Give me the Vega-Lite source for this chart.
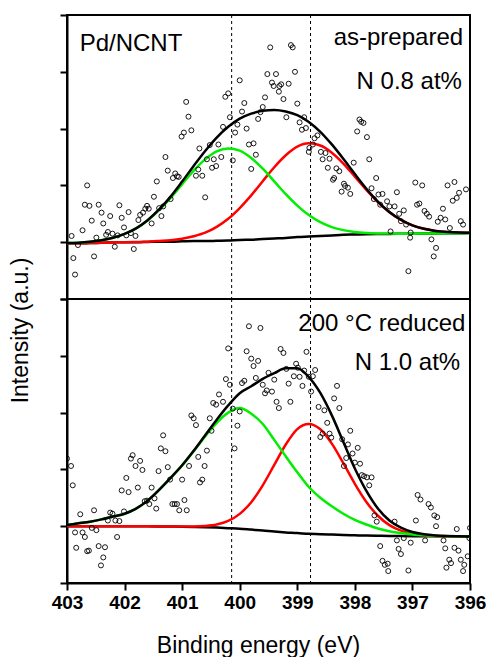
{
"$schema":"https://vega.github.io/schema/vega-lite/v6.json",
"padding":{"left":8,"top":13,"right":0,"bottom":0},
"bounds":"flush",
"background":"white",
"config":{"view":{"stroke":"black","strokeWidth":2},"font":"Liberation Sans",
"axis":{"grid":false,"domainColor":"black","domainWidth":2,"tickColor":"black","tickWidth":2,"tickSize":7,"labelFont":"Liberation Sans","titleFont":"Liberation Sans","labelColor":"black","titleColor":"black","titleFontWeight":"normal"}},
"datasets":{
"dash":[{"e":400.14},{"e":398.77}],
"topTextL":[{"e":402.78,"v":3.36,"t":"Pd/NCNT"}],
"topTextR":[{"e":396.12,"v":3.48,"t":"as-prepared"},{"e":396.14,"v":2.69,"t":"N 0.8 at%"}],
"botTextR":[{"e":396.08,"v":3.43,"t":"200 °C reduced"},{"e":396.17,"v":2.75,"t":"N 1.0 at%"}],
"topFit":[
{"e":403.0,"b":-0.02,"g":-0.015,"r":-0.02,"k":-0.015},
{"e":402.8,"b":-0.02,"g":-0.009,"r":-0.02,"k":-0.009},
{"e":402.6,"b":-0.015,"g":0.007,"r":-0.015,"k":0.007},
{"e":402.4,"b":-0.01,"g":0.034,"r":-0.01,"k":0.034},
{"e":402.2,"b":-0.005,"g":0.078,"r":-0.005,"k":0.078},
{"e":402.0,"b":0,"g":0.146,"r":0.001,"k":0.146},
{"e":401.8,"b":0,"g":0.242,"r":0.002,"k":0.244},
{"e":401.6,"b":0.005,"g":0.382,"r":0.01,"k":0.387},
{"e":401.4,"b":0.01,"g":0.565,"r":0.021,"k":0.576},
{"e":401.2,"b":0.01,"g":0.78,"r":0.033,"k":0.803},
{"e":401.0,"b":0.015,"g":1.022,"r":0.06,"k":1.067},
{"e":400.8,"b":0.02,"g":1.26,"r":0.104,"k":1.343},
{"e":400.6,"b":0.02,"g":1.458,"r":0.167,"k":1.606},
{"e":400.4,"b":0.025,"g":1.598,"r":0.27,"k":1.842},
{"e":400.2,"b":0.03,"g":1.65,"r":0.412,"k":2.032},
{"e":400.0,"b":0.04,"g":1.613,"r":0.602,"k":2.175},
{"e":399.8,"b":0.045,"g":1.483,"r":0.825,"k":2.263},
{"e":399.6,"b":0.055,"g":1.295,"r":1.074,"k":2.314},
{"e":399.4,"b":0.065,"g":1.072,"r":1.32,"k":2.327},
{"e":399.2,"b":0.075,"g":0.845,"r":1.531,"k":2.301},
{"e":399.0,"b":0.09,"g":0.645,"r":1.682,"k":2.237},
{"e":398.8,"b":0.1,"g":0.477,"r":1.74,"k":2.117},
{"e":398.6,"b":0.11,"g":0.352,"r":1.702,"k":1.944},
{"e":398.4,"b":0.12,"g":0.266,"r":1.576,"k":1.722},
{"e":398.2,"b":0.13,"g":0.213,"r":1.385,"k":1.468},
{"e":398.0,"b":0.135,"g":0.179,"r":1.154,"k":1.199},
{"e":397.8,"b":0.14,"g":0.162,"r":0.92,"k":0.942},
{"e":397.6,"b":0.143,"g":0.154,"r":0.705,"k":0.716},
{"e":397.4,"b":0.146,"g":0.151,"r":0.528,"k":0.533},
{"e":397.2,"b":0.148,"g":0.15,"r":0.393,"k":0.395},
{"e":397.0,"b":0.15,"g":0.15,"r":0.297,"k":0.297},
{"e":396.8,"b":0.152,"g":0.152,"r":0.236,"k":0.236},
{"e":396.6,"b":0.154,"g":0.154,"r":0.199,"k":0.199},
{"e":396.4,"b":0.156,"g":0.156,"r":0.179,"k":0.179},
{"e":396.2,"b":0.158,"g":0.158,"r":0.169,"k":0.169},
{"e":396.0,"b":0.16,"g":0.16,"r":0.165,"k":0.165}],
"botFit":[
{"e":403.0,"b":0,"g":0.02,"r":0,"k":0.02},
{"e":402.8,"b":0,"g":0.05,"r":0,"k":0.05},
{"e":402.6,"b":0,"g":0.08,"r":0,"k":0.08},
{"e":402.4,"b":0,"g":0.12,"r":0,"k":0.12},
{"e":402.2,"b":0,"g":0.17,"r":0,"k":0.17},
{"e":402.0,"b":0,"g":0.22,"r":0,"k":0.22},
{"e":401.8,"b":0,"g":0.31,"r":0,"k":0.31},
{"e":401.6,"b":-0.002,"g":0.45,"r":-0.002,"k":0.45},
{"e":401.4,"b":-0.004,"g":0.64,"r":-0.004,"k":0.64},
{"e":401.2,"b":-0.006,"g":0.85,"r":-0.006,"k":0.85},
{"e":401.0,"b":-0.008,"g":1.07,"r":-0.006,"k":1.072},
{"e":400.8,"b":-0.012,"g":1.32,"r":-0.005,"k":1.327},
{"e":400.6,"b":-0.017,"g":1.58,"r":0.004,"k":1.601},
{"e":400.4,"b":-0.025,"g":1.82,"r":0.03,"k":1.875},
{"e":400.2,"b":-0.035,"g":2.0,"r":0.092,"k":2.127},
{"e":400.0,"b":-0.045,"g":2.08,"r":0.217,"k":2.342},
{"e":399.8,"b":-0.06,"g":1.98,"r":0.423,"k":2.463},
{"e":399.6,"b":-0.075,"g":1.8,"r":0.72,"k":2.595},
{"e":399.4,"b":-0.095,"g":1.52,"r":1.079,"k":2.694},
{"e":399.2,"b":-0.11,"g":1.23,"r":1.439,"k":2.779},
{"e":399.0,"b":-0.12,"g":0.95,"r":1.71,"k":2.78},
{"e":398.8,"b":-0.135,"g":0.69,"r":1.8,"k":2.625},
{"e":398.6,"b":-0.14,"g":0.5,"r":1.706,"k":2.346},
{"e":398.4,"b":-0.148,"g":0.35,"r":1.453,"k":1.951},
{"e":398.2,"b":-0.155,"g":0.22,"r":1.109,"k":1.484},
{"e":398.0,"b":-0.16,"g":0.11,"r":0.747,"k":1.017},
{"e":397.8,"b":-0.165,"g":0.03,"r":0.427,"k":0.622},
{"e":397.6,"b":-0.168,"g":-0.04,"r":0.184,"k":0.312},
{"e":397.4,"b":-0.171,"g":-0.09,"r":0.019,"k":0.1},
{"e":397.2,"b":-0.173,"g":-0.12,"r":-0.079,"k":-0.026},
{"e":397.0,"b":-0.175,"g":-0.145,"r":-0.133,"k":-0.103},
{"e":396.8,"b":-0.176,"g":-0.16,"r":-0.159,"k":-0.143},
{"e":396.6,"b":-0.177,"g":-0.17,"r":-0.171,"k":-0.164},
{"e":396.4,"b":-0.178,"g":-0.175,"r":-0.177,"k":-0.174},
{"e":396.2,"b":-0.179,"g":-0.178,"r":-0.179,"k":-0.178},
{"e":396.0,"b":-0.18,"g":-0.18,"r":-0.18,"k":-0.18}],
"topPts":[
{"e":402.92,"v":0.11},{"e":402.89,"v":-0.28},{"e":402.86,"v":-0.57},{"e":402.81,"v":-0.05},{"e":402.73,"v":0.21},{"e":402.65,"v":1.0},{"e":402.69,"v":0.66},{"e":402.61,"v":0.64},{"e":402.57,"v":0.38},{"e":402.53,"v":-0.25},{"e":402.49,"v":0.08},{"e":402.45,"v":0.66},{"e":402.4,"v":0.52},{"e":402.37,"v":0.33},{"e":402.32,"v":0.13},{"e":402.29,"v":0.18},{"e":402.25,"v":0.46},{"e":402.21,"v":0.15},{"e":402.17,"v":-0.08},{"e":402.12,"v":0.12},{"e":402.09,"v":0.65},{"e":402.05,"v":0.43},{"e":402.01,"v":0.26},{"e":401.97,"v":0.12},{"e":401.93,"v":0.53},{"e":401.89,"v":0.16},{"e":401.84,"v":-0.12},{"e":401.81,"v":0.11},{"e":401.76,"v":0.39},{"e":401.73,"v":0.48},{"e":401.68,"v":0.52},{"e":401.64,"v":0.59},{"e":401.61,"v":0.64},{"e":401.58,"v":0.59},{"e":401.53,"v":0.33},{"e":401.49,"v":0.8},{"e":401.44,"v":1.07},{"e":401.4,"v":0.6},{"e":401.36,"v":0.46},{"e":401.33,"v":0.63},{"e":401.29,"v":1.5},{"e":401.25,"v":1.26},{"e":401.2,"v":0.76},{"e":401.16,"v":1.13},{"e":401.12,"v":1.21},{"e":401.09,"v":1.16},{"e":401.06,"v":1.15},{"e":401.01,"v":1.86},{"e":400.97,"v":1.93},{"e":400.93,"v":2.47},{"e":400.89,"v":2.21},{"e":400.84,"v":1.97},{"e":400.76,"v":1.17},{"e":400.72,"v":1.28},{"e":400.7,"v":1.65},{"e":400.65,"v":1.17},{"e":400.6,"v":0.79},{"e":400.57,"v":1.46},{"e":400.52,"v":1.71},{"e":400.48,"v":1.31},{"e":400.45,"v":1.46},{"e":400.41,"v":1.34},{"e":400.37,"v":1.72},{"e":400.32,"v":1.5},{"e":400.29,"v":2.03},{"e":400.25,"v":2.56},{"e":400.2,"v":2.62},{"e":400.17,"v":2.2},{"e":400.12,"v":1.44},{"e":400.08,"v":1.93},{"e":400.04,"v":2.07},{"e":400.0,"v":2.85},{"e":399.96,"v":2.3},{"e":399.92,"v":2.45},{"e":399.88,"v":2.0},{"e":399.84,"v":1.72},{"e":399.8,"v":1.29},{"e":399.76,"v":1.74},{"e":399.72,"v":1.54},{"e":399.68,"v":2.17},{"e":399.64,"v":2.29},{"e":399.6,"v":2.38},{"e":399.56,"v":2.55},
{"e":399.47,"v":3.43},{"e":399.11,"v":3.47},{"e":399.08,"v":3.43},{"e":399.52,"v":2.96},{"e":399.37,"v":2.96},{"e":399.04,"v":3.0},{"e":399.44,"v":2.81},{"e":399.41,"v":2.75},{"e":399.31,"v":2.75},{"e":399.28,"v":2.78},{"e":399.15,"v":2.79},{"e":399.32,"v":2.65},{"e":399.24,"v":2.52},{"e":399.0,"v":2.44},{"e":399.19,"v":2.2},{"e":398.96,"v":2.11},{"e":398.92,"v":1.98},{"e":398.85,"v":2.01},{"e":398.88,"v":2.2},{"e":398.7,"v":1.83},{"e":398.65,"v":1.88},{"e":398.79,"v":1.66},{"e":398.73,"v":1.72},{"e":398.8,"v":1.59},{"e":398.59,"v":1.59},{"e":398.51,"v":1.57},{"e":398.56,"v":1.46},{"e":398.44,"v":1.47},{"e":398.47,"v":1.31},{"e":398.32,"v":1.3},{"e":398.27,"v":1.25},{"e":398.36,"v":1.13},{"e":398.38,"v":1.1},{"e":398.19,"v":1.03},{"e":398.17,"v":0.99},{"e":398.12,"v":0.96},{"e":398.23,"v":0.89},{"e":398.08,"v":0.85},{"e":398.02,"v":1.4},{"e":397.92,"v":2.16},{"e":397.89,"v":2.12},{"e":397.85,"v":2.1},{"e":397.96,"v":1.95},{"e":397.79,"v":1.85},{"e":397.75,"v":1.46},{"e":397.63,"v":1.13},{"e":397.71,"v":0.95},{"e":397.59,"v":0.84},{"e":397.52,"v":0.85},{"e":397.56,"v":0.66},{"e":397.67,"v":0.76},{"e":397.44,"v":0.72},{"e":397.4,"v":0.63},{"e":397.31,"v":0.63},{"e":397.27,"v":0.88},{"e":397.38,"v":0.19},{"e":397.23,"v":0.5},{"e":397.2,"v":0.37},{"e":397.15,"v":0.56},{"e":397.11,"v":0.31},{"e":397.03,"v":0.17},{"e":397.04,"v":0.08},{"e":396.95,"v":1.05},{"e":396.83,"v":1.0},{"e":396.92,"v":0.66},{"e":396.88,"v":0.68},{"e":396.79,"v":0.55},{"e":396.75,"v":0.5},{"e":396.71,"v":0.45},{"e":396.67,"v":0.05},{"e":396.59,"v":-0.1},{"e":396.63,"v":-0.25},{"e":396.56,"v":0.36},{"e":396.51,"v":0.43},{"e":396.47,"v":0.59},{"e":396.43,"v":0.4},{"e":396.39,"v":1.0},{"e":396.27,"v":1.06},{"e":396.35,"v":0.25},{"e":396.3,"v":0.73},{"e":396.23,"v":0.78},{"e":396.19,"v":0.87},{"e":396.16,"v":0.37},{"e":396.12,"v":0.31},{"e":396.07,"v":0.93},{"e":397.07,"v":-0.51}],
"botPts":[
{"e":403.0,"v":1.19},{"e":402.93,"v":1.06},{"e":402.9,"v":0.72},{"e":402.84,"v":-0.38},{"e":402.77,"v":0.21},{"e":402.86,"v":-0.11},{"e":402.73,"v":-0.11},{"e":402.69,"v":-0.19},{"e":402.65,"v":-0.44},{"e":402.62,"v":-0.43},{"e":402.57,"v":-0.03},{"e":402.53,"v":0.28},{"e":402.49,"v":-0.07},{"e":402.45,"v":-0.35},{"e":402.41,"v":-0.69},{"e":402.37,"v":-0.55},{"e":402.34,"v":-0.37},{"e":402.29,"v":0.1},{"e":402.25,"v":0.24},{"e":402.21,"v":0.22},{"e":402.16,"v":0.1},{"e":402.13,"v":-0.19},{"e":402.09,"v":0.09},{"e":402.05,"v":0.63},{"e":402.01,"v":0.26},{"e":401.97,"v":0.85},{"e":401.93,"v":0.6},{"e":401.89,"v":1.19},{"e":401.86,"v":1.25},{"e":401.81,"v":1.06},{"e":401.77,"v":0.68},{"e":401.73,"v":1.15},{"e":401.69,"v":0.99},{"e":401.65,"v":0.44},{"e":401.61,"v":0.45},{"e":401.57,"v":0.39},{"e":401.53,"v":0.68},{"e":401.48,"v":0.49},{"e":401.45,"v":0.31},{"e":401.41,"v":0.97},{"e":401.37,"v":1.37},{"e":401.33,"v":1.6},{"e":401.29,"v":1.32},{"e":401.25,"v":1.04},{"e":401.21,"v":0.82},{"e":401.17,"v":0.39},{"e":401.13,"v":0.39},{"e":401.09,"v":0.39},{"e":401.05,"v":0.28},{"e":401.0,"v":0.82},{"e":400.96,"v":0.46},{"e":400.92,"v":0.28},{"e":400.88,"v":1.06},{"e":400.84,"v":1.95},{"e":400.8,"v":1.9},{"e":400.76,"v":1.78},{"e":400.72,"v":1.22},{"e":400.69,"v":0.77},{"e":400.65,"v":0.82},{"e":400.61,"v":1.06},{"e":400.57,"v":1.33},{"e":400.52,"v":1.9},{"e":400.49,"v":1.68},{"e":400.46,"v":2.17},{"e":400.41,"v":2.14},{"e":400.36,"v":2.32},{"e":400.29,"v":2.19},{"e":400.24,"v":2.59},{"e":400.2,"v":3.13},{"e":400.17,"v":2.49},{"e":400.12,"v":2.07},{"e":400.09,"v":1.37},{"e":400.04,"v":1.77},{"e":400.0,"v":2.02},{"e":399.96,"v":2.52},{"e":399.92,"v":2.56},{"e":399.88,"v":3.08},{"e":399.84,"v":3.52},{"e":399.8,"v":2.95},{"e":399.76,"v":2.82},{"e":399.72,"v":2.61},{"e":399.68,"v":2.91},{"e":399.64,"v":3.49},{"e":399.6,"v":2.49},{"e":399.56,"v":2.34},{"e":399.53,"v":2.39},{"e":399.5,"v":2.7},
{"e":399.4,"v":2.58},{"e":399.44,"v":2.37},{"e":399.29,"v":3.12},{"e":399.24,"v":3.05},{"e":399.36,"v":2.19},{"e":399.32,"v":2.08},{"e":399.12,"v":2.19},{"e":399.15,"v":2.51},{"e":399.19,"v":2.77},{"e":399.02,"v":2.86},{"e":398.99,"v":2.79},{"e":399.06,"v":2.64},{"e":398.96,"v":2.63},{"e":398.91,"v":2.47},{"e":398.84,"v":3.07},{"e":398.8,"v":2.63},{"e":398.88,"v":2.74},{"e":398.76,"v":2.37},{"e":398.73,"v":2.64},{"e":398.69,"v":2.75},{"e":398.63,"v":2.1},{"e":398.53,"v":2.04},{"e":398.48,"v":1.82},{"e":398.36,"v":2.25},{"e":398.31,"v":2.47},{"e":398.27,"v":2.08},{"e":398.6,"v":1.57},{"e":398.56,"v":1.63},{"e":398.44,"v":1.63},{"e":398.41,"v":1.56},{"e":398.22,"v":1.53},{"e":398.19,"v":1.06},{"e":398.15,"v":1.2},{"e":398.08,"v":1.68},{"e":398.12,"v":1.44},{"e":398.04,"v":1.28},{"e":398.0,"v":1.12},{"e":397.95,"v":1.38},{"e":397.91,"v":1.1},{"e":397.88,"v":0.9},{"e":397.84,"v":0.88},{"e":397.79,"v":0.86},{"e":397.75,"v":0.72},{"e":397.71,"v":0.86},{"e":397.66,"v":0.19},{"e":397.62,"v":0.08},{"e":397.56,"v":-0.35},{"e":397.52,"v":-0.61},{"e":397.48,"v":-0.68},{"e":397.43,"v":-0.66},{"e":397.42,"v":-0.79},{"e":397.31,"v":0.08},{"e":397.27,"v":-0.25},{"e":397.24,"v":-0.4},{"e":397.2,"v":-0.49},{"e":397.15,"v":-0.21},{"e":397.07,"v":-0.78},{"e":397.03,"v":-0.29},{"e":396.94,"v":0.1},{"e":396.91,"v":0.55},{"e":396.86,"v":0.47},{"e":396.72,"v":0.39},{"e":396.68,"v":0.33},{"e":396.62,"v":0.19},{"e":396.57,"v":0.16},{"e":396.59,"v":0.0},{"e":396.78,"v":-0.25},{"e":396.46,"v":-0.25},{"e":396.43,"v":-0.39},{"e":396.36,"v":-0.59},{"e":396.33,"v":-0.65},{"e":396.41,"v":-0.73},{"e":396.27,"v":-0.38},{"e":396.2,"v":-0.43},{"e":396.23,"v":-0.05},{"e":396.16,"v":-0.59},{"e":396.1,"v":-0.68},{"e":396.12,"v":-0.79},{"e":396.04,"v":-0.53},{"e":396.01,"v":-0.21},{"e":396.0,"v":-0.03}]
},
"spacing":0,
"vconcat":[
{"width":403,"height":284,
"encoding":{"x":{"field":"e","type":"quantitative","scale":{"domain":[403,396],"nice":false,"zero":false},"axis":null}},
"layer":[
{"data":{"name":"dash"},"mark":{"type":"rule","strokeDash":[3,3],"strokeWidth":1,"color":"black"},"encoding":{}},
{"data":{"name":"topFit"},"transform":[{"fold":["b"],"as":["c","v"]}],"mark":{"type":"line","color":"black","strokeWidth":2.5,"interpolate":"monotone","clip":true},
"encoding":{"y":{"field":"v","type":"quantitative","scale":{"domain":[-1,4],"nice":false,"zero":false},"axis":{"values":[-1,0,1,2,3,4],"labels":false,"title":"Intensity (a.u.)","titleFontSize":23,"titleX":-40,"titleY":315,"titleAngle":-90,"titleAlign":"center","titleBaseline":"alphabetic"}}}},
{"data":{"name":"topFit"},"transform":[{"fold":["r"],"as":["c","v"]}],"mark":{"type":"line","color":"#ff0000","strokeWidth":2.5,"interpolate":"monotone","clip":true},"encoding":{"y":{"field":"v","type":"quantitative"}}},
{"data":{"name":"topFit"},"transform":[{"fold":["g"],"as":["c","v"]}],"mark":{"type":"line","color":"#00ee00","strokeWidth":2.5,"interpolate":"monotone","clip":true},"encoding":{"y":{"field":"v","type":"quantitative"}}},
{"data":{"name":"topFit"},"transform":[{"fold":["k"],"as":["c","v"]}],"mark":{"type":"line","color":"black","strokeWidth":2.5,"interpolate":"monotone","clip":true},"encoding":{"y":{"field":"v","type":"quantitative"}}},
{"data":{"name":"topPts"},"mark":{"type":"point","shape":"circle","filled":false,"color":"black","opacity":1,"size":25,"strokeWidth":0.9,"clip":true},"encoding":{"y":{"field":"v","type":"quantitative"}}},
{"data":{"name":"topTextL"},"mark":{"type":"text","align":"left","baseline":"alphabetic","fontSize":24,"font":"Liberation Sans","color":"black"},"encoding":{"y":{"field":"v","type":"quantitative"},"text":{"field":"t"}}},
{"data":{"name":"topTextR"},"mark":{"type":"text","align":"right","baseline":"alphabetic","fontSize":24,"font":"Liberation Sans","color":"black"},"encoding":{"y":{"field":"v","type":"quantitative"},"text":{"field":"t"}}}
]},
{"width":403,"height":284,
"encoding":{"x":{"field":"e","type":"quantitative","scale":{"domain":[403,396],"nice":false,"zero":false},"axis":{"values":[403,402,401,400,399,398,397,396],"format":"d","labelFontSize":19,"labelFontWeight":"bold","labelPadding":3,"labelFlush":false,"labelOverlap":false,"labelBound":false,"title":"Binding energy (eV)","titleFontSize":23,"titleX":191,"titleY":69,"titleAlign":"center","titleBaseline":"alphabetic"}}},
"layer":[
{"data":{"name":"dash"},"mark":{"type":"rule","strokeDash":[3,3],"strokeWidth":1,"color":"black"},"encoding":{}},
{"data":{"name":"botFit"},"transform":[{"fold":["b"],"as":["c","v"]}],"mark":{"type":"line","color":"black","strokeWidth":2.5,"interpolate":"monotone","clip":true},
"encoding":{"y":{"field":"v","type":"quantitative","scale":{"domain":[-1,4],"nice":false,"zero":false},"axis":{"values":[-1,0,1,2,3,4],"labels":false,"title":null}}}},
{"data":{"name":"botFit"},"transform":[{"fold":["r"],"as":["c","v"]}],"mark":{"type":"line","color":"#ff0000","strokeWidth":2.5,"interpolate":"monotone","clip":true},"encoding":{"y":{"field":"v","type":"quantitative"}}},
{"data":{"name":"botFit"},"transform":[{"fold":["g"],"as":["c","v"]}],"mark":{"type":"line","color":"#00ee00","strokeWidth":2.5,"interpolate":"monotone","clip":true},"encoding":{"y":{"field":"v","type":"quantitative"}}},
{"data":{"name":"botFit"},"transform":[{"fold":["k"],"as":["c","v"]}],"mark":{"type":"line","color":"black","strokeWidth":2.5,"interpolate":"monotone","clip":true},"encoding":{"y":{"field":"v","type":"quantitative"}}},
{"data":{"name":"botPts"},"mark":{"type":"point","shape":"circle","filled":false,"color":"black","opacity":1,"size":25,"strokeWidth":0.9,"clip":true},"encoding":{"y":{"field":"v","type":"quantitative"}}},
{"data":{"name":"botTextR"},"mark":{"type":"text","align":"right","baseline":"alphabetic","fontSize":24,"font":"Liberation Sans","color":"black"},"encoding":{"y":{"field":"v","type":"quantitative"},"text":{"field":"t"}}}
]}
]
}
